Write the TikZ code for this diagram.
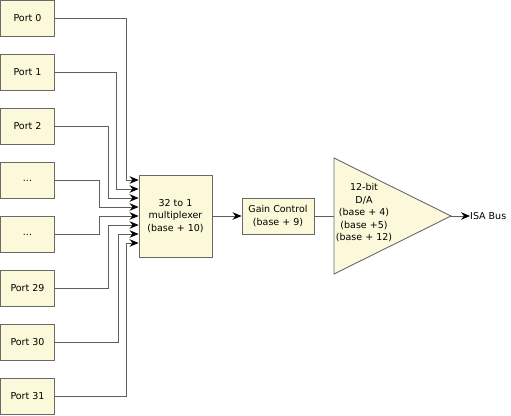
\documentclass[tikz,border=0pt]{standalone}
\usepackage{fontspec}
\setmainfont{DejaVu Sans}
\usetikzlibrary{arrows.meta}
\definecolor{boxfill}{RGB}{252,249,218}
\definecolor{boxline}{RGB}{105,105,105}
\definecolor{wire}{RGB}{95,95,95}
\begin{document}
\begin{tikzpicture}[x=1pt,y=-1pt,
  box/.style={draw=boxline,fill=boxfill,line width=0.9pt,inner sep=1pt,align=center,
    font=\fontsize{9.5}{12.5}\selectfont},
  port/.style={box,minimum width=54pt,minimum height=36pt},
  conn/.style={draw=wire,line width=0.8pt},
  arr/.style={conn,-{Stealth[black,length=9pt,width=7.5pt,inset=3pt]}},
  lbl/.style={inner sep=0pt,align=center,font=\fontsize{9.5}{12.5}\selectfont}]
\useasboundingbox (0,0) rectangle (511,415);
% ports
\node[port] (p0) at (27.5,18.5) {Port 0};
\node[port] (p1) at (27.5,72.5) {Port 1};
\node[port] (p2) at (27.5,126.5) {Port 2};
\node[port] (p3) at (27.5,180.5) {...};
\node[port] (p4) at (27.5,234.5) {...};
\node[port] (p29) at (27.5,288.5) {Port 29};
\node[port] (p30) at (27.5,342.5) {Port 30};
\node[port] (p31) at (27.5,396.5) {Port 31};
% multiplexer
\node[box,minimum width=73pt,minimum height=82pt] (mux) at (175.5,216) {32 to 1\\multiplexer\\(base + 10)};
% gain
\node[box,minimum width=72pt,minimum height=36pt] (gain) at (278,216) {Gain Control\\(base + 9)};
% D/A triangle
\coordinate (dacin) at (334,216);
\coordinate (dacout) at (451,216);
\draw[draw=boxline,fill=boxfill,line width=0.9pt] (334,158) -- (dacout) -- (334,274) -- cycle;
\node[lbl] (dac) at (364,213) {12-bit\\D/A\\(base + 4)\\(base +5)\\(base + 12)};
\node[lbl,anchor=west] (isa) at (470,216) {ISA Bus};
% inputs
\draw[arr] (p0.east) -| (126.5,180) -- (mux.west |- 0,180);
\draw[arr] (p1.east) -| (116.5,189) -- (mux.west |- 0,189);
\draw[arr] (p2.east) -| (108.5,198) -- (mux.west |- 0,198);
\draw[arr] (p3.east) -| (99.5,207) -- (mux.west |- 0,207);
\draw[arr] (p4.east) -| (99.5,216) -- (mux.west |- 0,216);
\draw[arr] (p29.east) -| (108.5,225) -- (mux.west |- 0,225);
\draw[arr] (p30.east) -| (118.5,234) -- (mux.west |- 0,234);
\draw[arr] (p31.east) -| (126.5,243) -- (mux.west |- 0,243);
% chain
\draw[arr] (mux.east) -- (gain.west);
\draw[conn] (gain.east) -- (dacin);
\draw[arr] (dacout) -- (isa.west);
\end{tikzpicture}
\end{document}
